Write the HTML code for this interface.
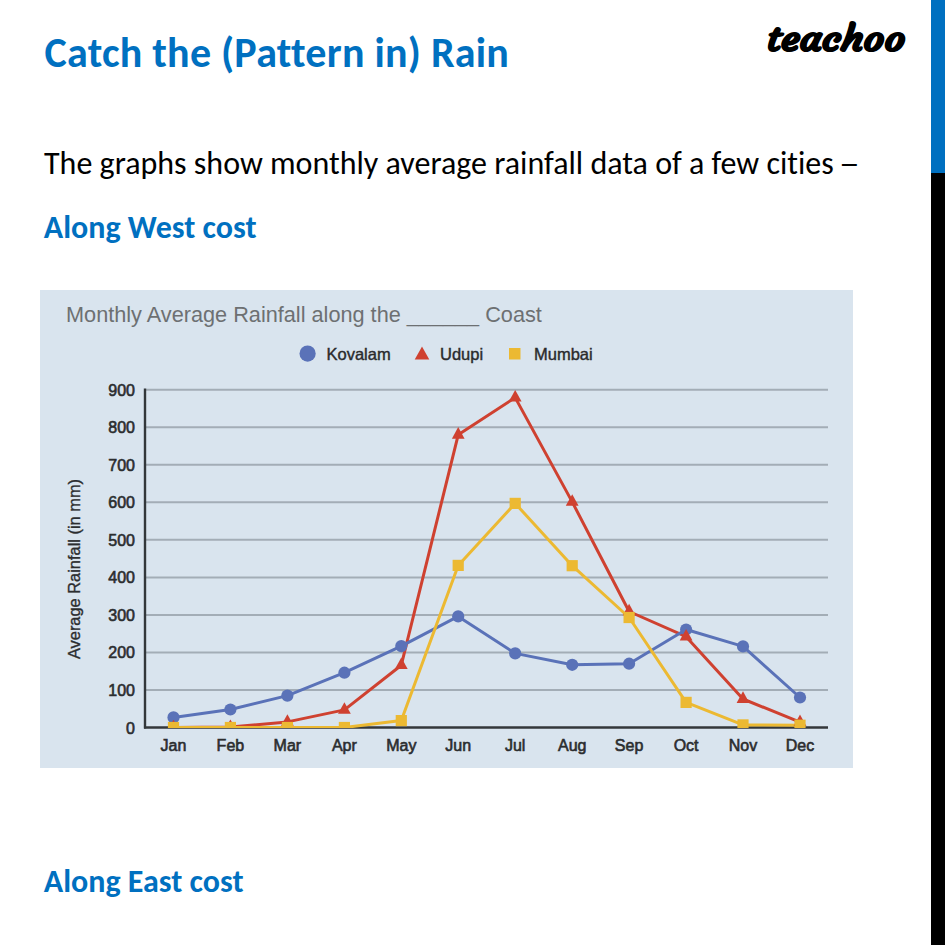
<!DOCTYPE html>
<html><head><meta charset="utf-8">
<style>
html,body{margin:0;padding:0;background:#fff;}
body{width:945px;height:945px;position:relative;overflow:hidden;font-family:"Carlito","Liberation Sans",sans-serif;font-variant-ligatures:none;font-feature-settings:"liga" 0,"clig" 0;}
.dash{display:inline-block;margin-left:-2.5px;transform:scaleX(1.3);transform-origin:0 50%;}
.t{position:absolute;white-space:nowrap;margin:0;line-height:1;transform-origin:0 0;}
#title{left:44.6px;top:31.6px;font-size:42px;font-weight:bold;color:#0070c0;letter-spacing:0.25px;}
#logo{left:766px;top:22px;font-family:"Courgette","Liberation Serif",serif;font-weight:bold;font-size:35px;color:#000;-webkit-text-stroke:1px #000;transform:scaleX(1.165);transform-origin:0 0;}
#para{left:44px;top:147.5px;font-size:32px;color:#000;}
#h1{left:43.8px;top:212px;font-size:32px;font-weight:bold;color:#0070c0;}
#h2{left:43.8px;top:866px;font-size:32px;font-weight:bold;color:#0070c0;}
#barb{position:absolute;left:931px;top:0;width:14px;height:173px;background:#0070c0;}
#bark{position:absolute;left:931px;top:173px;width:14px;height:772px;background:#000;}
#chart{position:absolute;left:40px;top:290px;}
</style></head><body>
<div class="t" id="title">Catch the (Pattern in) Rain</div>
<div class="t" id="logo">teachoo</div>
<div class="t" id="para">The graphs show monthly average rainfall data of a few cities <span class="dash">–</span></div>
<div class="t" id="h1">Along West cost</div>
<div class="t" id="h2">Along East cost</div>
<div id="barb"></div><div id="bark"></div>
<svg id="chart" width="813" height="478" viewBox="40 290 813 478" font-family="Liberation Sans, Arial, sans-serif">
<defs><clipPath id="pc"><rect x="130" y="370" width="720" height="357.9"/></clipPath></defs>
<rect x="40" y="290" width="813" height="478" fill="#d9e4ee"/>
<text x="66" y="322" font-size="21.7" fill="#6d7072">Monthly Average Rainfall along the ______ Coast</text>
<circle cx="307.6" cy="353.6" r="8.1" fill="#5a72b8"/>
<text x="326.5" y="359.6" font-size="16.5" fill="#2a2b2c" stroke="#2a2b2c" stroke-width="0.4">Kovalam</text>
<polygon points="422,346.5 429.3,359.5 414.7,359.5" fill="#cf4130"/>
<text x="440" y="359.6" font-size="16.5" fill="#2a2b2c" stroke="#2a2b2c" stroke-width="0.4">Udupi</text>
<rect x="509" y="348" width="11.5" height="11.5" fill="#ecb932"/>
<text x="534" y="359.6" font-size="16.5" fill="#2a2b2c" stroke="#2a2b2c" stroke-width="0.4">Mumbai</text>
<g stroke="#a3adb6" stroke-width="2">
<line x1="146" y1="690.0" x2="828" y2="690.0"/>
<line x1="146" y1="652.4" x2="828" y2="652.4"/>
<line x1="146" y1="614.9" x2="828" y2="614.9"/>
<line x1="146" y1="577.4" x2="828" y2="577.4"/>
<line x1="146" y1="539.8" x2="828" y2="539.8"/>
<line x1="146" y1="502.3" x2="828" y2="502.3"/>
<line x1="146" y1="464.8" x2="828" y2="464.8"/>
<line x1="146" y1="427.2" x2="828" y2="427.2"/>
<line x1="146" y1="389.7" x2="828" y2="389.7"/>
</g>
<g stroke="#33373a" stroke-width="2.4">
<line x1="145" y1="388.5" x2="145" y2="728.5"/>
<line x1="144" y1="727.5" x2="828" y2="727.5"/>
</g>
<g font-size="16" fill="#2b2d2f" stroke="#2b2d2f" stroke-width="0.6" text-anchor="end">
<text x="135" y="733.5">0</text>
<text x="135" y="696.0">100</text>
<text x="135" y="658.4">200</text>
<text x="135" y="620.9">300</text>
<text x="135" y="583.4">400</text>
<text x="135" y="545.8">500</text>
<text x="135" y="508.3">600</text>
<text x="135" y="470.8">700</text>
<text x="135" y="433.2">800</text>
<text x="135" y="395.7">900</text>
</g>
<text transform="translate(80,569) rotate(-90)" font-size="16.4" fill="#2b2d2f" stroke="#2b2d2f" stroke-width="0.35" text-anchor="middle">Average Rainfall (in mm)</text>
<g font-size="16" fill="#2b2d2f" stroke="#2b2d2f" stroke-width="0.6" text-anchor="middle">
<text x="173.5" y="751">Jan</text>
<text x="230.4" y="751">Feb</text>
<text x="287.4" y="751">Mar</text>
<text x="344.4" y="751">Apr</text>
<text x="401.3" y="751">May</text>
<text x="458.2" y="751">Jun</text>
<text x="515.2" y="751">Jul</text>
<text x="572.2" y="751">Aug</text>
<text x="629.1" y="751">Sep</text>
<text x="686.1" y="751">Oct</text>
<text x="743.0" y="751">Nov</text>
<text x="800.0" y="751">Dec</text>
</g>
<g clip-path="url(#pc)">
<polyline fill="none" stroke="#cf4130" stroke-width="3" stroke-linejoin="round" points="173.5,727.5 230.4,727.1 287.4,721.9 344.4,709.9 401.3,665.2 458.2,434.8 515.2,397.6 572.2,501.9 629.1,611.5 686.1,636.7 743.0,699.0 800.0,722.2"/>
<polyline fill="none" stroke="#5a72b8" stroke-width="3" stroke-linejoin="round" points="173.5,717.4 230.4,709.5 287.4,695.6 344.4,672.7 401.3,646.1 458.2,616.4 515.2,653.4 572.2,664.8 629.1,663.7 686.1,629.5 743.0,646.4 800.0,697.5"/>
<polyline fill="none" stroke="#ecb932" stroke-width="3" stroke-linejoin="round" points="173.5,727.5 230.4,727.5 287.4,727.5 344.4,727.5 401.3,720.6 458.2,565.4 515.2,503.4 572.2,565.7 629.1,617.5 686.1,702.4 743.0,724.9 800.0,725.2"/>
<g fill="#5a72b8">
<circle cx="173.5" cy="717.4" r="6.1"/>
<circle cx="230.4" cy="709.5" r="6.1"/>
<circle cx="287.4" cy="695.6" r="6.1"/>
<circle cx="344.4" cy="672.7" r="6.1"/>
<circle cx="401.3" cy="646.1" r="6.1"/>
<circle cx="458.2" cy="616.4" r="6.1"/>
<circle cx="515.2" cy="653.4" r="6.1"/>
<circle cx="572.2" cy="664.8" r="6.1"/>
<circle cx="629.1" cy="663.7" r="6.1"/>
<circle cx="686.1" cy="629.5" r="6.1"/>
<circle cx="743.0" cy="646.4" r="6.1"/>
<circle cx="800.0" cy="697.5" r="6.1"/>
</g>
<g fill="#cf4130">
<polygon points="173.5,719.8 179.9,731.4 167.1,731.4"/>
<polygon points="230.4,719.4 236.8,731.0 224.0,731.0"/>
<polygon points="287.4,714.2 293.8,725.8 281.0,725.8"/>
<polygon points="344.4,702.2 350.8,713.8 338.0,713.8"/>
<polygon points="401.3,657.5 407.7,669.1 394.9,669.1"/>
<polygon points="458.2,427.1 464.6,438.7 451.9,438.7"/>
<polygon points="515.2,389.9 521.6,401.5 508.8,401.5"/>
<polygon points="572.2,494.2 578.6,505.8 565.8,505.8"/>
<polygon points="629.1,603.8 635.5,615.4 622.7,615.4"/>
<polygon points="686.1,629.0 692.5,640.6 679.7,640.6"/>
<polygon points="743.0,691.3 749.4,702.9 736.6,702.9"/>
<polygon points="800.0,714.5 806.4,726.1 793.6,726.1"/>
</g>
<g fill="#ecb932">
<rect x="167.9" y="721.9" width="11.2" height="11.2"/>
<rect x="224.8" y="721.9" width="11.2" height="11.2"/>
<rect x="281.8" y="721.9" width="11.2" height="11.2"/>
<rect x="338.8" y="721.9" width="11.2" height="11.2"/>
<rect x="395.7" y="715.0" width="11.2" height="11.2"/>
<rect x="452.6" y="559.8" width="11.2" height="11.2"/>
<rect x="509.6" y="497.8" width="11.2" height="11.2"/>
<rect x="566.6" y="560.1" width="11.2" height="11.2"/>
<rect x="623.5" y="611.9" width="11.2" height="11.2"/>
<rect x="680.5" y="696.8" width="11.2" height="11.2"/>
<rect x="737.4" y="719.3" width="11.2" height="11.2"/>
<rect x="794.4" y="719.6" width="11.2" height="11.2"/>
</g>
</g>
</svg>
<script>
(function(){
var T={title:[464.53,1],logo:[119.73,1.165],para:[810.45,1],h1:[212.67,1],h2:[199.69,1]};
for(var id in T){var e=document.getElementById(id);if(!e)continue;e.style.transform='none';
var w=e.getBoundingClientRect().width;if(!w)continue;var s=T[id][0]/w;
if(Math.abs(s-1)<0.01)s=1;s=s*T[id][1];e.style.transform=(s===1)?'':'scaleX('+s.toFixed(4)+')';}
})();
</script>
</body></html>
